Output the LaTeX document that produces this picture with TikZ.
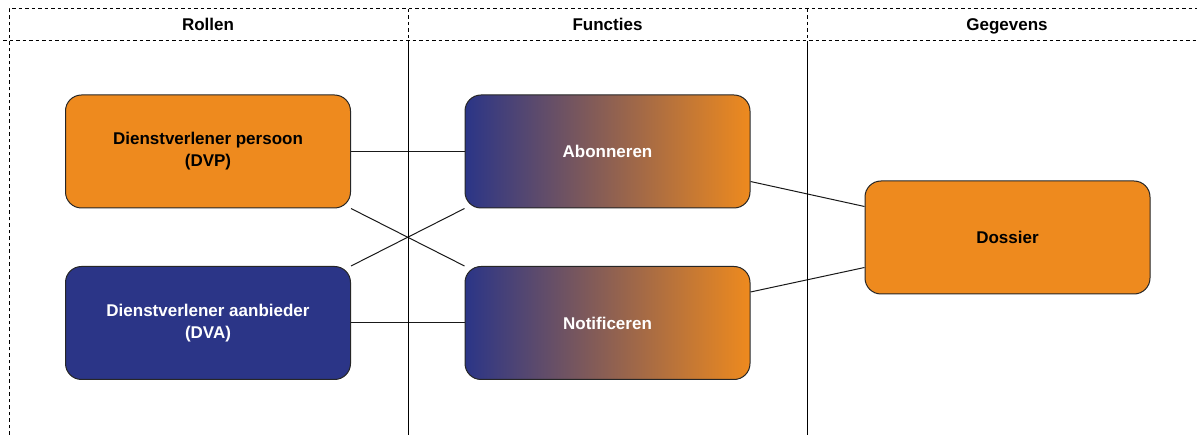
\documentclass[tikz,border=0pt]{standalone}
\usepackage{fontspec}
\setmainfont{Liberation Sans}
\usetikzlibrary{backgrounds}
\definecolor{dvporange}{RGB}{238,138,30}
\definecolor{dvablue}{RGB}{43,53,135}
\tikzset{
	box/.style={draw=black!85, line width=1pt, rounded corners=16pt, minimum width=285pt, minimum height=113pt, inner sep=0pt, align=center, font=\fontsize{17}{22}\selectfont\bfseries},
	orangebox/.style={box, fill=dvporange, text=black},
	bluebox/.style={box, fill=dvablue, text=white},
	fadebox/.style={box, left color=dvablue, right color=dvporange, text=white},
	lane/.style={line width=1pt},
	laneborder/.style={lane, dash pattern=on 3.5pt off 3pt},
	link/.style={line width=1pt, draw=black!90},
	lanetitle/.style={font=\fontsize{17}{20}\selectfont\bfseries, text height=12pt, text depth=1.5pt}
}

\begin{document}
\begin{tikzpicture}[x=1pt,y=-1pt]
	\useasboundingbox (0,0) rectangle (1197,435);
	% swimlanes
	\draw[laneborder] (9,435) -- (9,9) -- (1197,9);
	\draw[laneborder] (3,41) -- (1197,41);
	\draw[laneborder] (408,9) -- (408,41);
	\draw[laneborder] (807,9) -- (807,41);
	\draw[lane] (408,41) -- (408,435);
	\draw[lane] (807,41) -- (807,435);
	\node[lanetitle] (rollen) at (208,25) {Rollen};
	\node[lanetitle] (functies) at (607.5,25) {Functies};
	\node[lanetitle] (gegevens) at (1007,25) {Gegevens};
	% boxes
	\node[orangebox] (dvp) at (208,151.5) {Dienstverlener persoon\\(DVP)};
	\node[bluebox] (dva) at (208,323) {Dienstverlener aanbieder\\(DVA)};
	\node[fadebox] (abon) at (607.5,151.5) {Abonneren};
	\node[fadebox] (notif) at (607.5,323) {Notificeren};
	\node[orangebox] (dossier) at (1007.5,237.5) {Dossier};
	% links
	\begin{pgfonlayer}{background}
		\draw[link] (dvp) -- (abon);
		\draw[link] (dva) -- (notif);
		\draw[link] (dvp.south east) -- (notif.north west);
		\draw[link] (dva.north east) -- (abon.south west);
		\draw[link] ([yshift=-30pt]abon.east) -- ([yshift=31pt]dossier.west);
		\draw[link] ([yshift=31pt]notif.east) -- ([yshift=-30pt]dossier.west);
	\end{pgfonlayer}
\end{tikzpicture}
\end{document}
